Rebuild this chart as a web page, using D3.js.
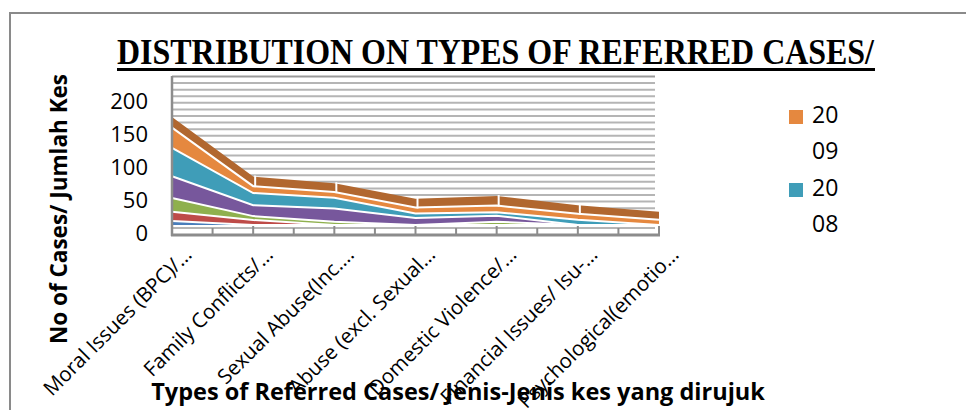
<!DOCTYPE html>
<html>
<head>
<meta charset="utf-8">
<script src="https://cdn.jsdelivr.net/npm/d3@7"></script>
<style>
  body { margin: 0; background: #fff; }
  svg { display: block; }
</style>
</head>
<body>
<div id="chart"></div>
<script>
// values (stacked, bottom series first)
var categories = ["Moral Issues (BPC)/…", "Family Conflicts/…", "Sexual Abuse(Inc.…",
  "Abuse (excl. Sexual…", "Domestic Violence/…", "Financial Issues/ Isu-…", "Psychological(emotio…"];
var years = ["2004", "2005", "2006", "2007", "2008", "2009", "2010"];
var s2004 = [6, 0, 0, 0, 0, 0, 0];
var s2005 = [14, 7.5, 0, 0, 0, 0, 0];
var s2006 = [21, 6, 5, 0, 5, 0, 0];
var s2007 = [33, 16.5, 20, 10.5, 9, 0, 0];
var s2008 = [43, 18.5, 16.5, 7, 5.5, 8, 0];
var s2009 = [31, 10.5, 8.5, 9, 10, 9, 8];
var s2010 = [16, 14.5, 13.5, 13.5, 14.5, 13, 12];
var yTicks = [0, 50, 100, 150, 200];
var legendKeys = ["2009", "2008"];

var colors = {"2004": "#4a7ebb", "2005": "#be4b48", "2006": "#8fb04e", "2007": "#77579c",
  "2008": "#3f9db8", "2009": "#e5883f", "2010": "#b1672f"};

var seriesVals = [s2004, s2005, s2006, s2007, s2008, s2009, s2010];
var table = categories.map(function(c, i) {
  var row = {cat: c};
  years.forEach(function(y, j) { row[y] = seriesVals[j][i]; });
  return row;
});

var svg = d3.select("#chart").append("svg")
    .attr("width", 966)
    .attr("height", 410);

// outer frame
svg.append("path")
    .attr("d", "M10,410 L10,13 L966,13")
    .attr("fill", "none")
    .attr("stroke", "#8a8a8a")
    .attr("stroke-width", 2);

var x = d3.scalePoint().domain(categories).range([172, 659]);
var y = d3.scaleLinear().domain([0, 240]).range([234, 76]);
var depth = 9; // 3d floor offset

// back wall gridlines
svg.append("g").selectAll("line")
    .data(d3.range(10, 241, 10))
    .enter().append("line")
    .attr("x1", 172).attr("x2", 655)
    .attr("y1", function(d) { return y(d) + 0.5; })
    .attr("y2", function(d) { return y(d) + 0.5; })
    .attr("stroke", function(d) { return d == 240 ? "#999" : "#b5b5b5"; })
    .attr("stroke-width", 2);

var stack = d3.stack().keys(years);
var layers = stack(table);

var area = d3.area()
    .x(function(d) { return x(d.data.cat); })
    .y0(function(d) { return y(d[0]) - depth; })
    .y1(function(d) { return y(d[1]) - depth; });

var topLine = d3.line()
    .x(function(d) { return x(d.data.cat); })
    .y(function(d) { return y(d[1]) - depth; });

svg.append("g").selectAll("path")
    .data(layers)
    .enter().append("path")
    .attr("fill", function(d) { return colors[d.key]; })
    .attr("d", area);

svg.append("g").selectAll("path")
    .data(layers.slice(0, layers.length - 1))
    .enter().append("path")
    .attr("fill", "none")
    .attr("stroke", "#fff")
    .attr("stroke-width", 2)
    .attr("d", topLine);

// breaks on the top face of the last series
var topLayer = layers[layers.length - 1];
svg.append("g").selectAll("line")
    .data(topLayer.slice(1, topLayer.length - 1))
    .enter().append("line")
    .attr("x1", function(d) { return x(d.data.cat) + 2; })
    .attr("x2", function(d) { return x(d.data.cat) + 2; })
    .attr("y1", function(d) { return y(d[1]) - depth - 1; })
    .attr("y2", function(d) { return y(d[0]) - depth + 1; })
    .attr("stroke", "#fff")
    .attr("stroke-width", 2);

// floor ticks
var step = x.step();
var tickPos = [];
categories.forEach(function(c, i) {
  tickPos.push({x: x(c), major: true});
  if (i < categories.length - 1) tickPos.push({x: x(c) + step / 2, major: false});
});
svg.append("g").selectAll("line")
    .data(tickPos)
    .enter().append("line")
    .attr("x1", function(d) { return d.x; })
    .attr("x2", function(d) { return d.x; })
    .attr("y1", function(d) { return d.major ? 226 : 228; })
    .attr("y2", 234)
    .attr("stroke", "#8c8c8c")
    .attr("stroke-width", 2);

svg.append("line")
    .attr("x1", 171).attr("x2", 660)
    .attr("y1", 235).attr("y2", 235)
    .attr("stroke", "#8c8c8c")
    .attr("stroke-width", 3);
svg.append("line")
    .attr("x1", 172).attr("x2", 172)
    .attr("y1", 76).attr("y2", 236)
    .attr("stroke", "#8c8c8c")
    .attr("stroke-width", 2.5);

// y labels
svg.append("g").selectAll("text")
    .data(yTicks)
    .enter().append("text")
    .attr("x", 148)
    .attr("y", function(d) { return y(d) + 1; })
    .attr("text-anchor", "end")
    .attr("dominant-baseline", "middle")
    .style("font-family", "'Open Sans', sans-serif")
    .style("font-size", "22px")
    .text(function(d) { return d; });

// category labels
svg.append("g").selectAll("text")
    .data(categories)
    .enter().append("text")
    .attr("transform", function(d) { return "translate(" + (x(d) + 21) + ",256) rotate(-45)"; })
    .attr("text-anchor", "end")
    .style("font-family", "'Open Sans', sans-serif")
    .style("font-size", "20.5px")
    .text(function(d) { return d; });

// axis titles
svg.append("text")
    .attr("transform", "translate(67,209) rotate(-90)")
    .attr("text-anchor", "middle")
    .style("font-family", "'Open Sans', sans-serif")
    .style("font-weight", "bold")
    .style("font-size", "22.5px")
    .text("No of Cases/ Jumlah Kes");

svg.append("text")
    .attr("x", 458)
    .attr("y", 400)
    .attr("text-anchor", "middle")
    .style("font-family", "'Open Sans', sans-serif")
    .style("font-weight", "bold")
    .style("font-size", "23.5px")
    .text("Types of Referred Cases/ Jenis-Jenis kes yang dirujuk");

// title
svg.append("text")
    .attr("x", 117)
    .attr("y", 64)
    .attr("textLength", 757)
    .attr("lengthAdjust", "spacingAndGlyphs")
    .style("font-family", "'Liberation Serif', 'Times New Roman', serif")
    .style("font-weight", "bold")
    .style("font-size", "36px")
    .text("DISTRIBUTION ON TYPES OF REFERRED CASES/");
svg.append("line")
    .attr("x1", 117).attr("x2", 875)
    .attr("y1", 69.5).attr("y2", 69.5)
    .attr("stroke", "#000")
    .attr("stroke-width", 3);

// legend (text wraps like the original)
var legend = svg.append("g").selectAll("g")
    .data(legendKeys)
    .enter().append("g")
    .attr("transform", function(d, i) { return "translate(789," + (110 + i * 73) + ")"; });
legend.append("rect")
    .attr("width", 14).attr("height", 14)
    .attr("fill", function(d) { return colors[d]; });
legend.append("text")
    .attr("x", 23)
    .attr("y", 7)
    .attr("dominant-baseline", "middle")
    .style("font-family", "'Open Sans', sans-serif")
    .style("font-size", "23px")
    .text(function(d) { return d.slice(0, 2); });
legend.append("text")
    .attr("x", 23)
    .attr("y", 43)
    .attr("dominant-baseline", "middle")
    .style("font-family", "'Open Sans', sans-serif")
    .style("font-size", "23px")
    .text(function(d) { return d.slice(2); });
</script>
</body>
</html>
